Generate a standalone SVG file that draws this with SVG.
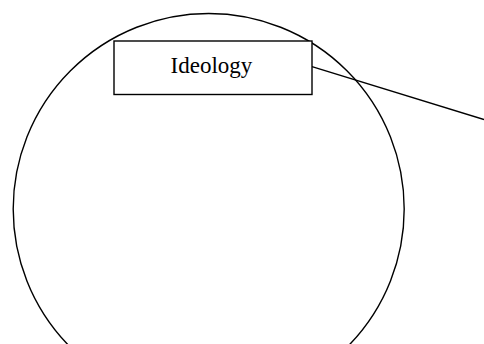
<svg xmlns="http://www.w3.org/2000/svg" width="484" height="344" viewBox="0 0 484 344">
<style>
.s{fill:none;stroke:#000;stroke-width:1.4}
.t{font-family:"Liberation Serif","Times New Roman",serif;font-size:23px;fill:#000}
</style>
<rect width="484" height="344" fill="#fff"/>
<g id="circle"><circle class="s" cx="208.7" cy="209" r="195.5"/></g>
<g id="connectors"><line class="s" x1="312" y1="66.7" x2="484" y2="119.5"/></g>
<g id="ideology">
<rect x="114" y="41" width="198" height="53.5" fill="#fff" stroke="#000" stroke-width="1.4"/>
<text class="t" x="211.5" y="73.3" text-anchor="middle">Ideology</text>
</g>
</svg>
